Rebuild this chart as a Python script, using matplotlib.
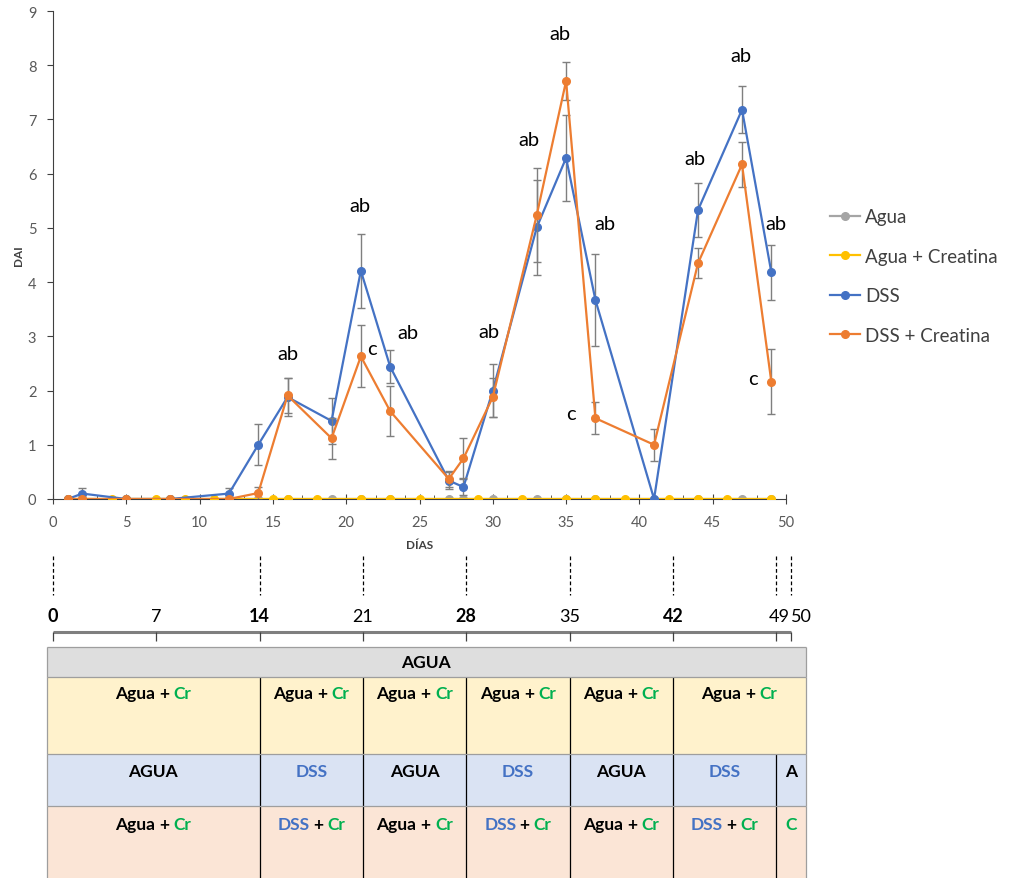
import matplotlib.pyplot as plt
from matplotlib.patches import Rectangle
from matplotlib.textpath import TextPath
from matplotlib.font_manager import FontProperties
from matplotlib.ticker import MultipleLocator

plt.rcParams['font.family'] = ['Lato', 'DejaVu Sans']

# Índice de actividad de la enfermedad (DAI) por grupo
days = [1, 2, 5, 8, 12, 14, 16, 19, 21, 23, 27, 28, 30, 33, 35, 37, 41, 44, 47, 49]
agua = [0] * len(days)
days_cr = [1, 2, 4, 5, 7, 8, 9, 11, 12, 15, 16, 18, 21, 23, 25, 29, 32, 35,
           37, 39, 42, 44, 46, 49]
agua_cr = [0] * len(days_cr)
dss = [0, 0.1, 0, 0, 0.1, 1.0, 1.88, 1.44, 4.21, 2.44, 0.34, 0.22, 2.0, 5.01,
       6.29, 3.67, 0, 5.33, 7.18, 4.18]
dss_err = [0, 0.1, 0, 0, 0.1, 0.38, 0.35, 0.42, 0.68, 0.3, 0.15, 0.15, 0.49,
           0.87, 0.8, 0.84, 0, 0.5, 0.43, 0.51]
dss_cr = [0, 0, 0, 0, 0, 0.11, 1.91, 1.12, 2.63, 1.62, 0.37, 0.75, 1.88, 5.24,
          7.71, 1.49, 1.0, 4.35, 6.17, 2.16]
dss_cr_err = [0, 0, 0, 0, 0, 0.12, 0.33, 0.38, 0.57, 0.46, 0.15, 0.37, 0.36,
              0.87, 0.35, 0.3, 0.3, 0.27, 0.41, 0.6]

# letras de significancia
ab_days = [16, 21, 23, 30, 33, 35, 37, 44, 47, 49]
c_days = [21, 37, 49]
ab_off = [(0, 24), (-1, 28), (18, 18), (-4, 32), (-8, 28), (-6, 28), (10, 31),
          (-3, 24), (-1, 31), (5, 21)]
c_off = [(11, 8), (-24, 5), (-18, 3)]

# calendario de tratamientos
timeline_days = [0, 7, 14, 21, 28, 35, 42, 49, 50]
timeline_bold = [0, 14, 28, 42]
label_shift = {49: 3, 50: 10}
dashed_days = [0, 14, 21, 28, 35, 42, 49, 50]
row_cr_bounds = [-0.4, 14, 21, 28, 35, 42, 51]
row_cr = ['Agua + Cr'] * 6
row_bounds = [-0.4, 14, 21, 28, 35, 42, 49, 51]
row_agua = ['AGUA', 'DSS', 'AGUA', 'DSS', 'AGUA', 'DSS', 'A']
row_dss_cr = ['Agua + Cr', 'DSS + Cr', 'Agua + Cr', 'DSS + Cr', 'Agua + Cr',
              'DSS + Cr', 'C']

GRAY, YELLOW, BLUE, ORANGE = '#A5A5A5', '#FFC000', '#4472C4', '#ED7D31'
GREEN = '#00B050'
TXT = '#595959'

W, H = 1010, 879
fig = plt.figure(figsize=(W / 100, H / 100), dpi=100)

ax = fig.add_axes([53 / W, 1 - 500 / H, 733 / W, 488 / H])
line_kw = dict(lw=1.6, marker='o', ms=5.5)
err_kw = dict(fmt='none', ecolor='#7F7F7F', elinewidth=1, capsize=3, capthick=1)
ax.plot(days, agua, color=GRAY, label='Agua', zorder=2, **line_kw)
ax.plot(days_cr, agua_cr, color=YELLOW, label='Agua + Creatina', zorder=3, **line_kw)
ax.errorbar(days, dss, yerr=dss_err, zorder=4, **err_kw)
ax.plot(days, dss, color=BLUE, label='DSS', zorder=5, **line_kw)
ax.errorbar(days, dss_cr, yerr=dss_cr_err, zorder=6, **err_kw)
ax.plot(days, dss_cr, color=ORANGE, label='DSS + Creatina', zorder=7, **line_kw)

for d, off in zip(ab_days, ab_off):
    i = days.index(d)
    top = max(dss[i] + dss_err[i], dss_cr[i] + dss_cr_err[i])
    ax.annotate('ab', (d, top), xytext=off, textcoords='offset pixels',
                ha='center', va='center', fontsize=14.5, color='black')
for d, off in zip(c_days, c_off):
    i = days.index(d)
    ax.annotate('c', (d, dss_cr[i]), xytext=off, textcoords='offset pixels',
                ha='center', va='center', fontsize=14.5, color='black')

ax.set_xlim(0, 50)
ax.set_ylim(0, 9)
ax.xaxis.set_major_locator(MultipleLocator(5))
ax.xaxis.set_minor_locator(MultipleLocator(1))
ax.yaxis.set_major_locator(MultipleLocator(1))
for s in ['top', 'right']:
    ax.spines[s].set_visible(False)
for s in ['left', 'bottom']:
    ax.spines[s].set_color('#404040')
ax.tick_params(axis='x', which='major', direction='inout', length=7,
               color='#404040', labelsize=10.5, labelcolor=TXT, pad=8)
ax.tick_params(axis='x', which='minor', direction='in', length=3, color='#404040')
ax.tick_params(axis='y', direction='out', length=4, color='#404040',
               labelsize=10.5, labelcolor=TXT, pad=8)
ax.set_xlabel('DÍAS', fontsize=8.5, fontweight='bold', color='#404040', labelpad=7)
ax.set_ylabel('DAI', fontsize=8.5, fontweight='bold', color='#404040', labelpad=3)

fig.legend(loc='upper left', bbox_to_anchor=(822 / W, 1 - 202 / H),
           frameon=False, fontsize=13.5, labelcolor='#404040', handlelength=1.6,
           handletextpad=0.3, labelspacing=1.2, borderaxespad=0)

# panel inferior: línea de tiempo y tabla de grupos
PX_DAY = 14.76
X0 = 53
lax = fig.add_axes([0, 0, 1, 1], zorder=-1)
lax.set_xlim(-X0 / PX_DAY, (W - X0) / PX_DAY)
lax.set_ylim(H, 0)
lax.axis('off')

lax.vlines(dashed_days, 557, 596, colors='black', lw=0.9, linestyles=(0, (3, 2)))
for d in timeline_days:
    lax.annotate(str(d), (d, 617), xytext=(label_shift.get(d, 0), 0),
                 textcoords='offset pixels', ha='center', va='center', fontsize=13,
                 fontweight='bold' if d in timeline_bold else 'normal', color='black')
lax.hlines(633, timeline_days[0], timeline_days[-1], colors='#7F7F7F', lw=2.2)
lax.vlines(timeline_days, 633, 642, colors='#404040', lw=0.9)

tfont = FontProperties(family='Lato', weight='bold', size=12.5)
colors = {'Agua': 'black', 'AGUA': 'black', 'A': 'black', 'DSS': BLUE,
          'Cr': GREEN, 'C': GREEN}


def text_days(s):
    return TextPath((0, 0), s, prop=tfont).get_extents().width * 100 / 72 / PX_DAY


def cell_text(x, y, s):
    parts = s.split(' + ')
    if len(parts) == 1:
        lax.text(x, y, s, ha='center', va='center', fontproperties=tfont,
                 color=colors[s])
        return
    left, right = parts
    w = text_days(s)
    x0, x1 = x - w / 2, x + w / 2
    lax.text(x0, y, left, ha='left', va='center', fontproperties=tfont,
             color=colors[left])
    lax.text(x1, y, right, ha='right', va='center', fontproperties=tfont,
             color=colors[right])
    xm = (x0 + text_days(left) + x1 - text_days(right)) / 2
    lax.text(xm, y, '+', ha='center', va='center', fontproperties=tfont,
             color='black')


def table_row(bounds, labels, y0, y1, ty, fill):
    lax.add_patch(Rectangle((bounds[0], y0), bounds[-1] - bounds[0], y1 - y0,
                            facecolor=fill, edgecolor='none'))
    lax.vlines(bounds[1:-1], y0, y1, colors='black', lw=0.9)
    lax.vlines([bounds[0], bounds[-1]], y0, y1, colors='#9E9E9E', lw=0.9)
    lax.hlines(y0, bounds[0], bounds[-1], colors='#9E9E9E', lw=0.9)
    for a, b, s in zip(bounds[:-1], bounds[1:], labels):
        cell_text((a + b) / 2, ty, s)


table_row([row_bounds[0], row_bounds[-1]], ['AGUA'], 648, 678, 663, '#DEDEDE')
table_row(row_cr_bounds, row_cr, 678, 755, 694, '#FFF2CC')
table_row(row_bounds, row_agua, 755, 807, 772, '#DAE3F3')
table_row(row_bounds, row_dss_cr, 807, 890, 825, '#FBE5D6')

fig.savefig('out.png', dpi=100)
